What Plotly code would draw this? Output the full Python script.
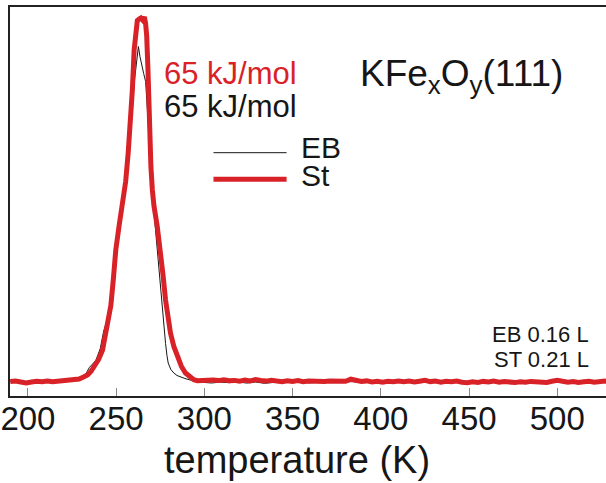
import plotly.graph_objects as go

# --- TPD traces: temperature (K) and desorption signal (arb. units, baseline = 0)
temp_st = [190, 193, 196, 199, 202, 205, 208, 211, 214, 217, 220, 223, 226,
           229, 231.5, 233.8, 235.7, 237.6, 240, 242.3, 244.1, 245.5, 247.0, 248.4,
           249.8, 251.7, 253.6, 255.4, 256.8, 258.2, 259.2, 260.2, 261.1, 262.0,
           263.0, 264.0, 265.0, 266.0, 266.7, 267.3, 268.0, 268.8, 269.7, 270.5,
           271.4, 273.3, 275.2, 276.6, 278.0, 279.4, 280.8, 282.7, 284.6, 287.0,
           289.3, 292.1, 294,
           296, 299, 302, 305, 308, 311, 314, 317, 320, 323, 326, 329, 332, 335,
           338, 341, 344, 347, 350, 353, 356, 359, 362, 365, 368, 371, 374, 377,
           380, 383, 386, 389, 392, 395, 398, 401, 404, 407, 410, 413, 416, 419,
           422, 425, 428, 431, 434, 437, 440, 443, 446, 449, 452, 455, 458, 461,
           464, 467, 470, 473, 476, 479, 482, 485, 488, 491, 494, 497, 500, 503,
           506, 509, 512, 515, 518, 521, 524, 527, 530]
signal_st = [0.0, 0.5, -0.5, -1.5, -0.5, 0.3, -0.2, 0.4, -0.3, 0.2, 0.5, 0.3, 0.8,
             2.5, 4.5, 6.5, 10, 15, 22, 31.5, 48.5, 60, 76, 102,
             131.5, 156, 178, 200, 228, 258, 292, 331.5, 351.5, 361,
             362.5, 363.5, 361.5, 364.5, 358, 346, 314, 250, 215, 192,
             176, 155, 131.5, 106, 81.5, 63, 48.5, 35, 24.8, 15,
             8.5, 3.5, 1.8,
             0.8, 1.2, 0.6, 1.5, 0.9, 1.8, 0.7, 1.1, 0.2, 1.4, 0.6, 1.9, 1.0, 0.4,
             1.3, 0.5, -0.2, 0.8, 0.1, 0.9, -0.3, 0.5, 0.2, 0.8, -0.1, 0.6, 0.3, 1.0,
             0.2, 2.3, 0.7, 0.0, 0.6, -0.4, 0.3, -0.6, 0.2, -0.3, 0.5, -0.2, 0.4, -0.5,
             0.3, 1.2, -0.1, 0.4, -0.6, 0.2, -0.3, 0.5, -0.8, -1.2, -0.2, -0.9, 0.1, -0.5,
             0.4, -0.7, 0.0, -0.4, -1.1, -0.2, -0.8, 0.1, -0.6, -0.2, -0.9, 0.2, 1.3, 0.2,
             -0.7, -0.1, -1.0, -0.3, 0.2, -0.8, -0.2, 0.4, -0.5]

temp_eb = [190, 194, 198, 202, 206, 210, 214, 218, 222, 226,
           228, 231, 233, 234.8, 236.5, 238.5, 241, 243, 245, 247, 248.5, 249.8,
           251.7, 253.6, 255.4, 257, 258.2, 259.3, 260.2, 261.5, 262.6, 263.5,
           264.6, 265.6, 266.7, 267.8, 268.6, 269.5, 270.9, 272.1, 273.3, 274.7,
           276.1, 277.1, 278.0, 278.8, 279.5, 281, 282.7, 284.5, 286.4, 289, 292, 295,
           299, 304, 309, 314, 319, 324, 329, 334, 339, 344, 349, 354, 359, 364,
           369, 374, 379, 384, 389, 394, 399, 404, 409, 414, 419, 424, 429, 434,
           439, 444, 449, 454, 459, 464, 469, 474, 479, 484, 489, 494, 499, 504,
           509, 514, 519, 524, 530]
signal_eb = [0.2, -0.4, -1.0, 0.1, -0.3, 0.3, -0.5, 0.1, 0.4, 0.6,
             1.5, 3.5, 8, 14, 17, 21, 33, 51, 62, 78, 105, 131,
             156, 178, 198, 225, 248, 275, 298, 320, 335, 325,
             314, 308, 300, 270, 240, 214, 181, 156, 131, 106,
             81, 58, 38, 26, 18.5, 12, 8.5, 6, 4.5, 3, 1.5, 0.5,
             -0.8, -1.5, -0.6, -1.2, -0.3, -1.6, -0.5, -1.8, -0.9, -0.2, -1.1, -0.4, -1.3, -0.6,
             -0.2, -0.9, -0.4, -0.1, -0.8, -0.3, -1.0, -0.2, -0.7, -0.4, -1.1, -0.3, -0.6, -0.9,
             -0.2, -0.8, -1.4, -0.5, -0.9, -0.3, -1.0, -0.6, -1.2, -0.4, -0.8, -1.1, 0.6, -0.5,
             -1.0, -0.4, -0.8, -0.6, -0.7]

x_ticks = [200, 250, 300, 350, 400, 450, 500]

RED = "#d82228"
INK = "#161616"
FONT = "Arial, Liberation Sans, sans-serif"

W, H = 606, 483
L, R, T, B = 7, 606, 7, 396   # plot area in pixels


def xp(px):
    return (px - L) / (R - L)


def yp(py):
    return (B - py) / (B - T)


fig = go.Figure()
fig.add_trace(go.Scatter(x=temp_eb, y=signal_eb, mode="lines", name="EB",
                         line=dict(color=INK, width=1)))
fig.add_trace(go.Scatter(x=temp_st, y=signal_st, mode="lines", name="St",
                         line=dict(color=RED, width=5)))

annotations = [
    dict(text="65 kJ/mol", x=xp(160), y=yp(73), xanchor="left", yanchor="middle",
         font=dict(size=31, color=RED)),
    dict(text="65 kJ/mol", x=xp(160), y=yp(106.5), xanchor="left", yanchor="middle",
         font=dict(size=31, color=INK)),
    dict(text="KFe<sub>x</sub>O<sub>y</sub>(111)", x=xp(357), y=yp(76),
         xanchor="left", yanchor="middle", font=dict(size=37, color=INK)),
    dict(text="EB", x=xp(297), y=yp(147), xanchor="left", yanchor="middle",
         font=dict(size=30, color=INK)),
    dict(text="St", x=xp(297), y=yp(176), xanchor="left", yanchor="middle",
         font=dict(size=30, color=INK)),
    dict(text="EB 0.16 L", x=xp(591), y=yp(334), xanchor="right", yanchor="middle",
         font=dict(size=22, color=INK)),
    dict(text="ST 0.21 L", x=xp(591), y=yp(359), xanchor="right", yanchor="middle",
         font=dict(size=22, color=INK)),
    dict(text="temperature (K)", x=xp(295), y=yp(460), xanchor="center", yanchor="middle",
         font=dict(size=38, color=INK)),
]
for a in annotations:
    a.update(xref="paper", yref="paper", showarrow=False)

shapes = [
    dict(type="line", xref="paper", yref="paper", x0=xp(211.5), x1=xp(285),
         y0=yp(152.7), y1=yp(152.7), line=dict(color=INK, width=1)),
    dict(type="line", xref="paper", yref="paper", x0=xp(211.5), x1=xp(285),
         y0=yp(179.3), y1=yp(179.3), line=dict(color=RED, width=5)),
]

fig.update_layout(
    width=W, height=H,
    margin=dict(l=L, r=W - R, t=T, b=H - B, pad=0),
    paper_bgcolor="white", plot_bgcolor="white",
    showlegend=False,
    font=dict(family=FONT, color=INK),
    annotations=annotations,
    shapes=shapes,
    xaxis=dict(range=[189.85, 527.6], tickvals=x_ticks,
               ticktext=[str(v) for v in x_ticks],
               showgrid=False, zeroline=False,
               showline=True, linecolor="#222222", linewidth=2, mirror=True,
               ticks="inside", ticklen=8, tickwidth=1, tickcolor="#888888",
               tickfont=dict(size=33, family=FONT, color=INK),
               ticklabelstandoff=-8, ticklabeloverflow="allow"),
    yaxis=dict(range=[-14.5, 374.5], showticklabels=False, showgrid=False,
               zeroline=False, showline=True, linecolor="#222222", linewidth=2,
               ticks=""),
)

fig.write_html("out.html")
